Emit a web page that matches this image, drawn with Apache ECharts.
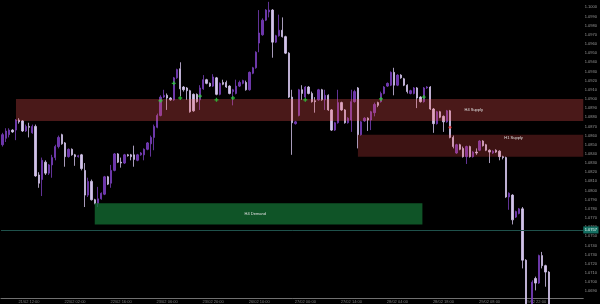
<!DOCTYPE html>
<html>
<head>
<meta charset="utf-8">
<script src="https://cdn.jsdelivr.net/npm/echarts@6/dist/echarts.min.js"></script>
<style>
  html, body { margin: 0; padding: 0; background: #000; }
  #chart { width: 600px; height: 304px; }
</style>
</head>
<body>
<div id="chart"></div>
<script>
// ---- data (prices in 1/10000 units, e.g. 10850 = 1.0850) ----
const slotCount = 177;
const slots = Array.from({ length: slotCount }, (_, i) => i);

const opens = [
10850,10857,10861,10866,10866,10877,10876,10865,10870,10863,
10870,10817,10812,10831,10819,10828,10836,10848,10861,10852,
10837,10845,10839,10837,10839,10822,10795,10810,10790,10786,
10791,10796,10815,10808,10822,10840,10831,10830,10839,10839,
10839,10833,10839,10839,10845,10851,10858,10869,10882,10902,
10904,10901,10899,10923,10933,10913,10912,10909,10905,10905,
10899,10911,10921,10917,10914,10923,10905,10918,10918,10914,
10908,10906,10914,10917,10918,10910,10928,10934,10961,10970,
10986,10995,10997,10962,10969,10975,10968,10950,10902,10873,
10882,10910,10902,10913,10906,10898,10899,10910,10899,10904,
10888,10866,10874,10896,10888,10874,10877,10897,10912,10861,
10876,10879,10877,10885,10896,10897,10906,10914,10915,10929,
10915,10926,10922,10915,10906,10906,10912,10902,10897,10912,
10913,10889,10873,10886,10881,10875,10887,10858,10841,10850,
10846,10837,10848,10837,10842,10844,10854,10850,10844,10841,
10844,10843,10837,10836,10793,10795,10771,10775,10780,10724,
10675,10664,10704,10699,10729,10718,10711];

const closes = [
10861,10865,10866,10864,10877,10875,10865,10870,10869,10870,
10816,10808,10833,10819,10828,10836,10848,10858,10851,10837,
10845,10839,10837,10838,10824,10795,10810,10790,10786,10791,
10797,10815,10807,10822,10840,10831,10830,10839,10838,10837,
10834,10839,10841,10845,10852,10858,10870,10882,10902,10904,
10901,10899,10923,10932,10911,10910,10909,10886,10887,10897,
10912,10921,10917,10914,10924,10905,10917,10916,10913,10906,
10910,10914,10918,10920,10910,10929,10934,10951,10972,10986,
10997,10997,10962,10969,10975,10968,10950,10902,10874,10875,
10910,10906,10913,10906,10897,10897,10910,10899,10904,10888,
10866,10874,10896,10888,10874,10879,10897,10908,10861,10875,
10879,10877,10886,10894,10893,10906,10913,10917,10929,10915,
10926,10923,10915,10908,10909,10912,10901,10897,10912,10913,
10889,10873,10886,10880,10875,10887,10858,10848,10850,10845,
10837,10848,10837,10842,10841,10854,10849,10844,10842,10843,
10842,10837,10836,10793,10797,10768,10777,10780,10724,10675,
10664,10700,10699,10729,10718,10711,10675];

const highs = [
10863,10868,10868,10867,10878,10879,10877,10872,10874,10872,
10872,10820,10836,10833,10829,10839,10850,10860,10862,10853,
10846,10846,10840,10839,10840,10830,10814,10812,10791,10804,
10798,10816,10816,10828,10841,10841,10836,10840,10840,10840,
10849,10840,10842,10846,10853,10860,10872,10884,10904,10910,
10906,10902,10924,10933,10940,10914,10913,10910,10906,10906,
10915,10926,10922,10918,10927,10924,10918,10921,10920,10915,
10911,10921,10920,10921,10920,10930,10935,10952,10997,10988,
10998,11006,10998,10970,10992,10989,10969,10951,10910,10876,
10911,10915,10914,10914,10908,10902,10911,10911,10910,10905,
10889,10875,10910,10897,10889,10880,10910,10910,10913,10876,
10880,10880,10887,10896,10897,10908,10914,10918,10930,10934,
10927,10927,10923,10916,10910,10913,10913,10903,10913,10914,
10914,10890,10887,10887,10882,10888,10888,10860,10851,10851,
10848,10849,10849,10843,10846,10855,10855,10851,10845,10844,
10845,10844,10838,10837,10798,10796,10778,10781,10782,10725,
10680,10702,10706,10730,10733,10719,10712];

const lows = [
10848,10853,10858,10863,10855,10873,10864,10864,10858,10862,
10815,10803,10794,10817,10817,10814,10833,10846,10850,10826,
10836,10838,10827,10836,10822,10782,10793,10789,10785,10782,
10790,10795,10806,10803,10821,10830,10825,10829,10837,10833,
10826,10832,10838,10833,10844,10837,10844,10868,10881,10901,
10888,10898,10898,10922,10903,10908,10899,10885,10886,10896,
10888,10910,10916,10913,10913,10904,10904,10915,10912,10905,
10893,10905,10913,10916,10909,10909,10927,10933,10951,10969,
10985,10989,10945,10961,10968,10967,10949,10901,10839,10872,
10881,10899,10901,10905,10896,10885,10898,10898,10888,10887,
10865,10865,10873,10887,10873,10873,10864,10896,10846,10860,
10875,10865,10866,10881,10891,10896,10905,10913,10914,10904,
10914,10922,10914,10906,10905,10905,10890,10896,10896,10911,
10888,10863,10872,10879,10864,10874,10857,10846,10840,10844,
10836,10829,10836,10836,10839,10843,10848,10843,10830,10840,
10841,10833,10834,10792,10779,10763,10770,10774,10715,10670,
10659,10661,10691,10698,10715,10695,10670];

// time-axis tick labels and their slot positions
const xTickSlots = [8, 22, 36, 50, 64, 78, 92, 106, 120, 134, 148, 162];
const xTickLabels = ['21/02 12:00','22/02 02:00','22/02 16:00','23/02 06:00','23/02 20:00','26/02 10:00',
                     '27/02 00:00','27/02 14:00','28/02 04:00','28/02 18:00','29/02 08:00','29/02 22:00'];

// price-axis tick values
const yTicks = [10690,10700,10710,10720,10730,10740,10750,10760,10770,10780,10790,10800,10810,10820,10830,10840,
                10850,10860,10870,10880,10890,10900,10910,10920,10930,10940,10950,10960,10970,10980,10990,11000];

// zones
const zoneNames  = ['H4 Supply', 'H1 Supply', 'H4 Demand'];
const zoneStart  = [4.05, 108.0, 28.0];
const zoneEnd    = [176.5, 176.5, 127.6];
const zoneTop    = [10900, 10861, 10786];
const zoneBottom = [10876, 10837, 10763];
const zoneLabelX = [143.2, 155.3, 76.8];
const zoneLabelY = [10888, 10857, 10774];
const zoneColors = ['rgba(255,85,85,0.29)', 'rgba(255,80,80,0.24)', 'rgba(20,112,52,0.75)'];

// signals
const buyIdx   = [48, 52, 54, 60, 65, 70, 92, 115, 128];
const buyPrice = [10898, 10917, 10901, 10903, 10899, 10901, 10899, 10900, 10902];
const sellIdx   = [136];
const sellPrice = [10869];

const currentPrice = 10757;

// ---- chart ----
const chart = echarts.init(document.getElementById('chart'), null, { renderer: 'canvas' });
const fontFamily = 'Liberation Sans, Arial, sans-serif';
const candleData = opens.map((o, i) => [o, closes[i], lows[i], highs[i]]);
const zoneData = zoneNames.map((n, i) => [zoneStart[i], zoneEnd[i], zoneTop[i], zoneBottom[i], zoneLabelX[i], zoneLabelY[i]]);
const fmtPrice = v => (v / 10000).toFixed(4);

chart.setOption({
  animation: false,
  backgroundColor: '#000000',
  grid: { left: 1, right: 15, top: 0, bottom: 6, containLabel: false },
  xAxis: [
    {
      type: 'category', data: slots, boundaryGap: true,
      axisLine: { show: true, lineStyle: { color: '#707070', width: 1 } },
      axisTick: { show: false },
      splitLine: { show: false },
      axisLabel: {
        interval: (idx) => xTickSlots.includes(idx),
        formatter: (v, idx) => { const k = xTickSlots.indexOf(Number(v)); return k >= 0 ? xTickLabels[k] : ''; },
        fontSize: 4, color: '#7e7e7e', margin: 1.5, fontFamily
      }
    },
    { type: 'value', min: -0.5, max: slotCount - 0.5, show: false }
  ],
  yAxis: {
    type: 'value', position: 'right', min: 10682.7, max: 11008, scale: true,
    splitLine: { show: false }, axisLine: { show: false }, axisTick: { show: false },
    axisLabel: {
      customValues: yTicks, formatter: fmtPrice,
      fontSize: 4, color: '#9a9a9a', margin: 1.5, fontFamily
    }
  },
  series: [
    {
      type: 'candlestick', name: 'price', data: candleData, xAxisIndex: 0, yAxisIndex: 0,
      barWidth: 1.8, clip: true, z: 2,
      itemStyle: {
        color: '#6c33ad', color0: '#d2c3ea',
        borderColor: '#7a40bd', borderColor0: '#d2c3ea', borderWidth: 0.8
      }
    },
    {
      type: 'custom', name: 'zones', xAxisIndex: 1, yAxisIndex: 0, z: 5, silent: true,
      data: zoneData,
      encode: { x: [0, 1, 4], y: [2, 3, 5] },
      renderItem: (params, api) => {
        const i = params.dataIndex;
        const p0 = api.coord([api.value(0), api.value(2)]);
        const p1 = api.coord([api.value(1), api.value(3)]);
        const lp = api.coord([api.value(4), api.value(5)]);
        return {
          type: 'group',
          children: [
            { type: 'rect', shape: { x: p0[0], y: p0[1], width: p1[0] - p0[0], height: p1[1] - p0[1] },
              style: { fill: zoneColors[i] } },
            { type: 'text', x: lp[0], y: lp[1],
              style: { text: zoneNames[i], fill: '#e0e0e0', font: '4px ' + fontFamily, align: 'center', verticalAlign: 'middle' } }
          ]
        };
      }
    },
    {
      type: 'scatter', name: 'buy', xAxisIndex: 0, yAxisIndex: 0, z: 6, silent: true,
      data: buyIdx.map((x, i) => [x, buyPrice[i]]),
      symbol: 'path://M1,0H2V1H3V2H2V3H1V2H0V1H1Z', symbolSize: 4,
      itemStyle: { color: '#2fd23c' },
      markLine: {
        silent: true, symbol: ['none', 'none'],
        lineStyle: { color: '#1f514b', width: 1, type: 'solid' },
        label: {
          show: true, position: 'end', distance: 0, formatter: fmtPrice(currentPrice),
          backgroundColor: '#157063', color: '#f0fffb', fontSize: 4, padding: [1.5, 1.5], fontFamily
        },
        data: [{ yAxis: currentPrice }]
      }
    },
    {
      type: 'scatter', name: 'sell', xAxisIndex: 0, yAxisIndex: 0, z: 6, silent: true,
      data: sellIdx.map((x, i) => [x, sellPrice[i]]),
      symbol: 'circle', symbolSize: 3,
      itemStyle: { color: '#e03535' }
    }
  ]
});
</script>
</body>
</html>
